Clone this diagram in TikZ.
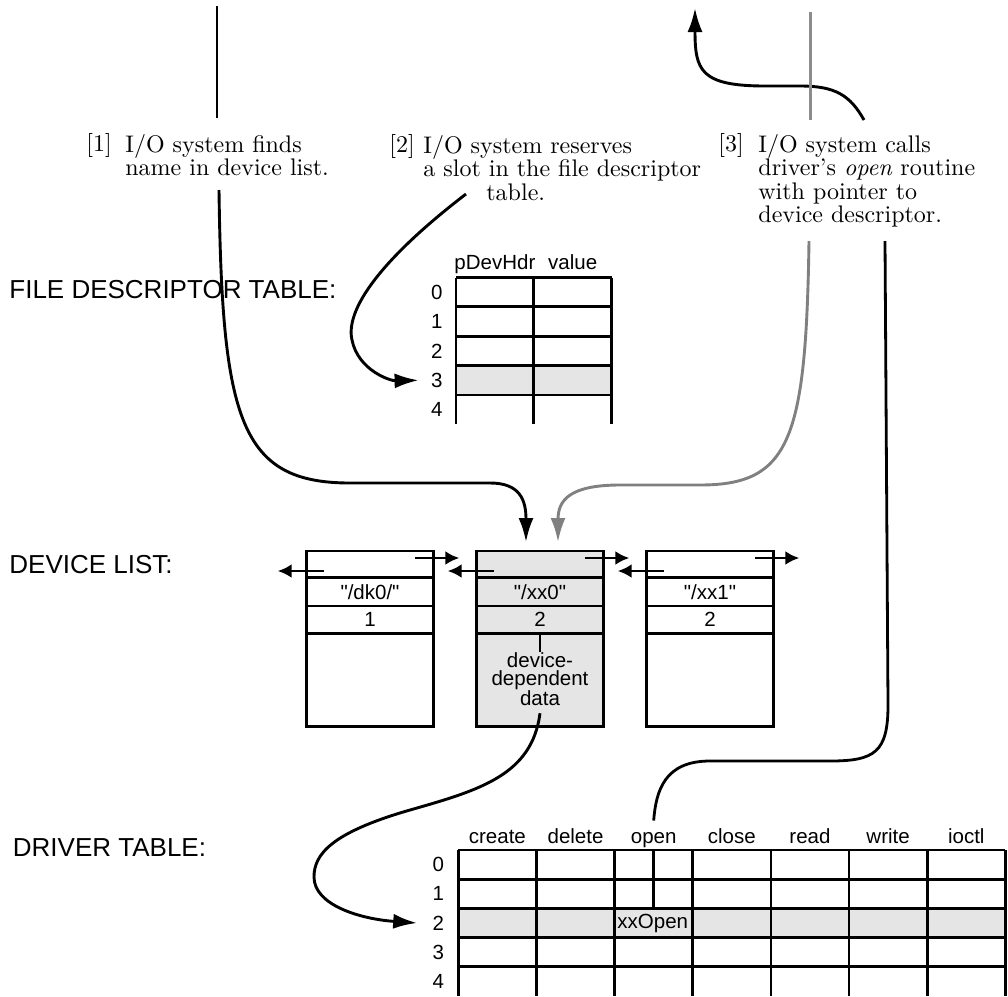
\documentclass[tikz,border=0pt]{standalone}
\usepackage{fontspec}
\setmainfont{lmroman10-regular.otf}[ItalicFont=lmroman10-italic.otf]
\newfontfamily\helv{Liberation Sans}
\usetikzlibrary{arrows.meta,positioning}

\begin{document}
\begin{tikzpicture}[
  x=1pt, y=-1pt,
  line width=2.8pt,
  hdr/.style={font=\helv\fontsize{26}{30}\selectfont, anchor=base west, inner sep=0pt},
  txt/.style={font=\helv\fontsize{20.5}{18.5}\selectfont, inner sep=0pt},
  note/.style={font=\fontsize{24}{23.5}\selectfont, align=left, anchor=north west, inner sep=0pt},
  tag/.style={font=\fontsize{24}{23.5}\selectfont, anchor=base west, inner sep=0pt},
  devrow/.style={draw, minimum width=126.6pt, inner sep=0pt, outer sep=0pt, font=\helv\fontsize{20.5}{18.5}\selectfont},
  arr/.style={-{Latex[length=24pt,width=15pt]}, line width=2.9pt},
  ptr/.style={-{Latex[length=14pt,width=14pt]}, line width=2.8pt}
]
\useasboundingbox (0,0) rectangle (1008,996);

\node[hdr] (fdlabel) at (8,298.5) {FILE DESCRIPTOR TABLE:};
\node[hdr] (devlabel) at (8,573) {DEVICE LIST:};
\node[hdr] (drvlabel) at (11.5,856) {DRIVER TABLE:};

\node[tag] (tag1) at (85,151) {[1]};
\node[note] (note1) at (124,133) {I/O system finds\\name in device list.};
\node[tag] (tag2) at (388,152) {[2]};
\node[note] (note2) at (422,134) {I/O system reserves\\a slot in the file descriptor\\\hspace*{63pt}table.};
\node[tag] (tag3) at (717,151) {[3]};
\node[note] (note3) at (757,133) {I/O system calls\\driver's \emph{open} routine\\with pointer to\\device descriptor.};

\fill[black!10] (456,365.55) rectangle ++(155.6,29.35);
\foreach \r in {0,...,4} \draw (456,277.5+29.35*\r) -- ++(155.6,0);
\foreach \c in {0,1,2} \draw (456+77.8*\c,277.5) -- ++(0,146);
\foreach \r in {0,...,4} \node[txt] (fd\r) at (436.7,292.2+29.35*\r) {\r};
\node[txt, anchor=base] (fdptr) at (494.9,269) {pDevHdr};
\node[txt, anchor=base] (fdval) at (572.7,269) {value};

\foreach \i/\xc/\nm/\num/\fl in {1/370/{"/dk0/"}/1/white, 2/540/{"/xx0"}/2/black!10, 3/710/{"/xx1"}/2/white}{
  \node[devrow, fill=\fl, minimum height=26.7pt] (dev\i-top) at (\xc,564.35) {};
  \node[devrow, fill=\fl, minimum height=28.3pt, below=0pt of dev\i-top] (dev\i-name) {\nm};
  \node[devrow, fill=\fl, minimum height=27.3pt, below=0pt of dev\i-name] (dev\i-num) {\num};
  \node[devrow, fill=\fl, minimum height=93.4pt, below=0pt of dev\i-num] (dev\i-data) {};
  \draw[ptr] ([xshift=-18pt,yshift=6.35pt]dev\i-top.east) -- ++(44,0);
  \draw[ptr] ([xshift=17pt,yshift=-6.65pt]dev\i-top.west) -- ++(-46,0);
}
\node[txt, align=center] (dev2-txt) at (540,679) {device-\\dependent\\data};
\draw (dev2-num.south) -- ++(0,18.4);

\fill[black!10] (458.3,908.4) rectangle ++(547.05,29.2);
\foreach \r in {0,...,4} \draw (458.3,850+29.2*\r) -- ++(547.05,0);
\foreach \c in {0,...,7} \draw (458.3+78.15*\c,850) -- ++(0,146);
\foreach \r in {0,...,4} \node[txt] (drv\r) at (438.3,864.6+29.2*\r) {\r};
\foreach \nm [count=\c] in {create,delete,open,close,read,write,ioctl}
  \node[txt, anchor=base] (drvh\c) at ({458.3+78.15*(\c-0.5)},843) {\nm};
\node[txt, anchor=west] (xxopen) at (616,923) {xxOpen};
\draw (653.7,850) -- (653.7,908.4);

\coordinate (c1top) at (217,6);
\coordinate (c1mid) at (217,118);
\coordinate (c1low) at (219,190);
\coordinate (c2start) at (466,194);
\coordinate (c3up) at (864,120);
\coordinate (c3tip) at (695,8);
\coordinate (g3top) at (810.7,11.7);
\coordinate (g3mid) at (810.7,120);
\coordinate (g3low) at (809,241);
\coordinate (c3right) at (885,241);

\draw (c1top) -- (c1mid);
\draw[arr] (c1low) .. controls (222,420) and (240,483) .. (350,483) -- (490,483)
  .. controls (520,483) and (526,500) .. ([xshift=-14pt,yshift=9pt]dev2-top.north);
\draw[arr] (c2start) .. controls (380,260) and (345,310) .. (352,340)
  .. controls (358,370) and (390,381) .. ([xshift=-11pt]fd3.west);
\draw[arr] (c3up) .. controls (850,95) and (835,86) .. (800,86) -- (765,86)
  .. controls (700,86) and (695,70) .. (c3tip);
\draw[black!45] (g3top) -- (g3mid);
\draw[arr, black!50] (g3low) .. controls (806,440) and (790,485) .. (700,485) -- (620,485)
  .. controls (570,485) and (558,500) .. ([xshift=18pt,yshift=9pt]dev2-top.north);
\draw (c3right) -- (888,705) .. controls (888,752) and (875,761) .. (830,761) -- (710,761)
  .. controls (665,761) and (656,790) .. ([yshift=10pt]drvh3.north);
\draw[arr] ([yshift=-6pt]dev2-txt.south) .. controls (532,775) and (480,790) .. (410,810)
  .. controls (330,833) and (314,855) .. (314,877)
  .. controls (314,905) and (360,919) .. ([xshift=-14pt]drv2.west);
\end{tikzpicture}
\end{document}
